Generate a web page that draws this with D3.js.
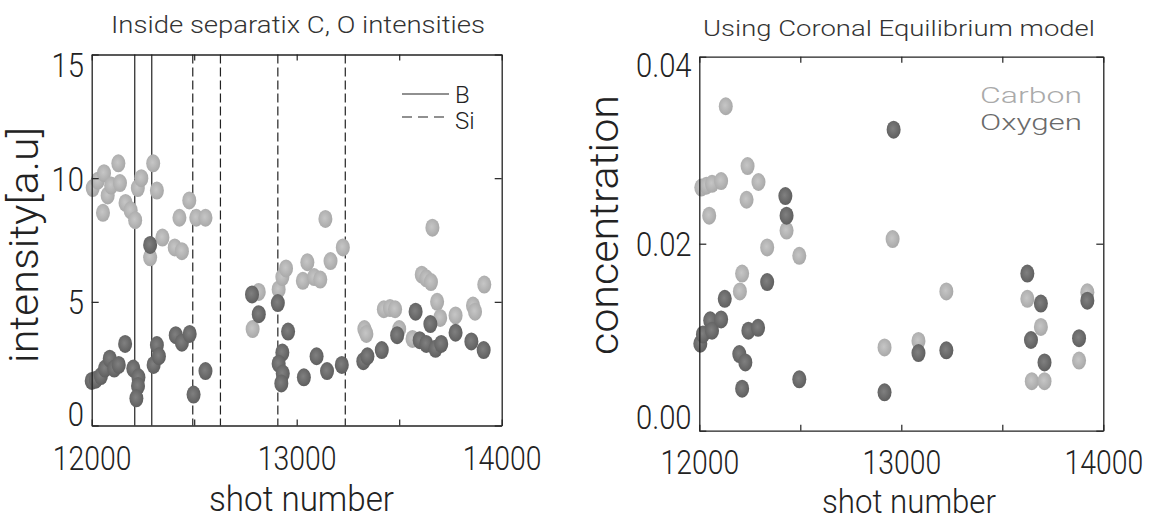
<!DOCTYPE html>
<html>
<head>
<meta charset="utf-8">
<script src="https://cdn.jsdelivr.net/npm/d3@7"></script>
<style>
body { margin: 0; background: #fff; }
text { font-family: Roboto, "DejaVu Sans", sans-serif; font-weight: 300; fill: #222; }
</style>
</head>
<body>
<div id="chart"></div>
<script>
// tick values
var shotTicks = d3.range(12000, 14001, 500);
var intensityTicks = [0, 5, 10, 15];
var concTicks = [0, 0.02, 0.04];

// left panel: [shot, intensity]
var carbonIntensity = [[12005,9.6],[12030,9.9],[12060,10.2],[12078,9.3],[12055,8.6],[12095,9.7],[12130,10.6],[12138,9.8],
  [12165,9.0],[12190,8.7],[12212,8.3],[12225,9.6],[12242,10.0],[12300,10.6],[12318,9.5],[12285,6.8],[12345,7.6],
  [12405,7.2],[12440,7.05],[12428,8.4],[12476,9.1],[12510,8.4],[12555,8.4],
  [12785,3.9],[12815,5.4],[12912,5.5],[12930,6.0],[12948,6.35],[13030,5.85],[13052,6.6],[13085,6.0],[13115,5.9],
  [13140,8.35],[13165,6.65],[13225,7.2],
  [13330,3.9],[13340,3.7],[13425,4.7],[13455,4.75],[13480,4.7],[13500,3.9],[13565,3.5],[13610,6.1],[13632,5.95],
  [13655,5.8],[13662,8.0],[13685,5.0],[13700,4.35],[13775,4.45],[13860,4.85],[13870,4.6],[13915,5.7]];
var oxygenIntensity = [[12000,1.8],[12020,1.85],[12045,2.0],[12065,2.3],[12088,2.7],[12110,2.3],[12132,2.45],[12163,3.3],
  [12203,2.3],[12228,1.95],[12226,1.6],[12218,1.1],[12285,7.3],[12302,2.45],[12318,3.25],[12328,2.8],[12410,3.65],
  [12440,3.35],[12478,3.7],[12497,1.25],[12555,2.2],
  [12782,5.3],[12815,4.5],[12908,4.95],[12958,3.8],[12930,2.95],[12912,2.5],[12932,2.1],[12925,1.7],[13035,1.95],
  [13097,2.8],[13148,2.2],[13220,2.45],
  [13325,2.6],[13345,2.8],[13415,3.05],[13490,3.65],[13580,4.6],[13600,3.45],[13632,3.3],[13652,4.1],[13677,3.1],
  [13705,3.3],[13775,3.75],[13852,3.4],[13912,3.05]];
var boronShots = [12210, 12293];
var siliconShots = [12493, 12628, 12908, 13237];

// right panel: [shot, concentration]
var carbonConc = [[12131,0.0347],[12010,0.0260],[12035,0.0262],[12063,0.0264],[12108,0.0267],[12049,0.0230],[12239,0.0283],
  [12293,0.0266],[12234,0.0247],[12432,0.0214],[12336,0.0196],[12495,0.0187],[12212,0.0168],[12201,0.0149],[12957,0.0205],
  [12917,0.0089],[13085,0.0096],[13223,0.0149],[13624,0.0141],[13691,0.0111],[13646,0.0053],[13709,0.0053],[13880,0.0075],
  [13921,0.0148]];
var oxygenConc = [[12962,0.0322],[12426,0.0251],[12432,0.0230],[12336,0.0159],[12126,0.0141],[12005,0.0093],[12018,0.0103],
  [12054,0.0118],[12063,0.0107],[12108,0.0119],[12243,0.0107],[12291,0.0110],[12198,0.0082],[12228,0.0073],[12212,0.0045],
  [12495,0.0055],[12917,0.0041],[13085,0.0083],[13223,0.0086],[13624,0.0168],[13691,0.0136],[13642,0.0097],[13709,0.0073],
  [13880,0.0099],[13921,0.0139]];

var svg = d3.select("#chart").append("svg")
    .attr("width", 1152)
    .attr("height", 520);

// shaded dots
var defs = svg.append("defs");
function grad(id, c0, c1) {
  var g = defs.append("radialGradient").attr("id", id).attr("cx", "45%").attr("cy", "45%").attr("r", "60%");
  g.append("stop").attr("offset", "0%").attr("stop-color", c0);
  g.append("stop").attr("offset", "100%").attr("stop-color", c1);
}
grad("gC", "#c6c6c6", "#a6a6a6");
grad("gO", "#808080", "#5c5c5c");

function styleText(sel, size) {
  sel.style("font-family", "Roboto, 'DejaVu Sans', sans-serif")
     .style("font-weight", 300)
     .style("font-size", size + "px")
     .style("fill", "#222");
}

function panel(box, yDomain, yTicks, yFmt, carbon, oxygen) {
  var x = d3.scaleLinear().domain([12000, 14000]).range([box.x0, box.x1]);
  var y = d3.scaleLinear().domain(yDomain).range([box.y1, box.y0]);

  var g = svg.append("g");

  // vertical marker lines (left panel only)
  if (box.markers) {
    g.selectAll(".bline").data(boronShots).enter().append("line")
      .attr("x1", d => x(d)).attr("x2", d => x(d))
      .attr("y1", box.y0).attr("y2", box.y1)
      .attr("stroke", "#222").attr("stroke-width", 1.2);
    g.selectAll(".sline").data(siliconShots).enter().append("line")
      .attr("x1", d => x(d)).attr("x2", d => x(d))
      .attr("y1", box.y0).attr("y2", box.y1)
      .attr("stroke", "#222").attr("stroke-width", 1.2)
      .attr("stroke-dasharray", "9,4");
  }

  // dots
  g.selectAll(".c").data(carbon).enter().append("ellipse")
    .attr("cx", d => x(d[0])).attr("cy", d => y(d[1]))
    .attr("rx", 7).attr("ry", 9)
    .attr("fill", "url(#gC)");
  g.selectAll(".o").data(oxygen).enter().append("ellipse")
    .attr("cx", d => x(d[0])).attr("cy", d => y(d[1]))
    .attr("rx", 7).attr("ry", 9)
    .attr("fill", "url(#gO)");

  // axes
  var xb = g.append("g").attr("transform", "translate(0," + box.y1 + ")")
    .call(d3.axisBottom(x).tickValues(shotTicks).tickSizeInner(-6).tickSizeOuter(0)
      .tickFormat(d => d % 1000 ? "" : d));
  g.append("g").attr("transform", "translate(0," + box.y0 + ")")
    .call(d3.axisTop(x).tickValues(shotTicks).tickSizeInner(-6).tickSizeOuter(0).tickFormat(""));
  var yl = g.append("g").attr("transform", "translate(" + box.x0 + ",0)")
    .call(d3.axisLeft(y).tickValues(yTicks).tickSizeInner(-7).tickSizeOuter(0).tickFormat(yFmt));
  g.append("g").attr("transform", "translate(" + box.x1 + ",0)")
    .call(d3.axisRight(y).tickValues(yTicks).tickSizeInner(-7).tickSizeOuter(0).tickFormat(""));

  g.selectAll(".domain").attr("stroke", "#222").attr("stroke-width", 1.3);
  g.selectAll(".tick line").attr("stroke", "#222").attr("stroke-width", 1.2);

  xb.selectAll("text").attr("y", box.xLabelDy).attr("dy", 0)
    .attr("transform", "scale(0.86,1)")
    .call(styleText, 33);
  var n = yTicks.length;
  yl.selectAll("text").attr("x", -9).attr("dy", 0)
    .attr("y", (d, i) => i === 0 ? box.firstDy : (i === n - 1 ? box.lastDy : 12))
    .attr("transform", "scale(0.86,1)")
    .call(styleText, 34);
  return g;
}

panel({x0: 91.7, x1: 501.7, y0: 54.5, y1: 425.5, markers: true, xLabelDy: 45, firstDy: 0, lastDy: 22},
      [0, 15], intensityTicks, d3.format("d"), carbonIntensity, oxygenIntensity);
panel({x0: 699.3, x1: 1103.3, y0: 56.7, y1: 430.7, markers: false, xLabelDy: 43, firstDy: -2, lastDy: 20},
      [0, 0.04], concTicks, d3.format(".2f"), carbonConc, oxygenConc);

// titles and axis labels
function label(txt, x, yy, size, len, rot, color) {
  var t = svg.append("text")
    .attr("x", x).attr("y", yy)
    .attr("text-anchor", "middle")
    .attr("textLength", len)
    .attr("lengthAdjust", "spacingAndGlyphs")
    .text(txt)
    .call(styleText, size);
  if (rot) t.attr("transform", "rotate(-90," + x + "," + yy + ")");
  if (color) t.style("fill", color);
  return t;
}
label("Inside separatix C, O intensities", 298, 33, 23, 374, false, "#333");
label("Using Coronal Equilibrium model", 899, 36, 22, 392, false, "#333");
label("shot number", 301.5, 511, 35, 185);
label("shot number", 909, 513, 34, 174);
label("intensity[a.u]", 38, 245, 40, 236, true);
label("concentration", 618, 225, 40, 260, true);

// legend, left panel
var leg = svg.append("g");
leg.append("line").attr("x1", 402).attr("x2", 449).attr("y1", 94).attr("y2", 94)
  .attr("stroke", "#222").attr("stroke-width", 1.2);
leg.append("line").attr("x1", 402).attr("x2", 449).attr("y1", 117).attr("y2", 117)
  .attr("stroke", "#222").attr("stroke-width", 1.2).attr("stroke-dasharray", "10,6");
leg.append("text").attr("x", 455).attr("y", 103).text("B").call(styleText, 24);
leg.append("text").attr("x", 455).attr("y", 129).text("Si").call(styleText, 24);

// legend, right panel
svg.append("text").attr("x", 980).attr("y", 103).attr("textLength", 102).attr("lengthAdjust", "spacingAndGlyphs")
  .text("Carbon").call(styleText, 22).style("fill", "#aaaaaa");
svg.append("text").attr("x", 980).attr("y", 130).attr("textLength", 102).attr("lengthAdjust", "spacingAndGlyphs")
  .text("Oxygen").call(styleText, 22).style("fill", "#6a6a6a");
</script>
</body>
</html>
